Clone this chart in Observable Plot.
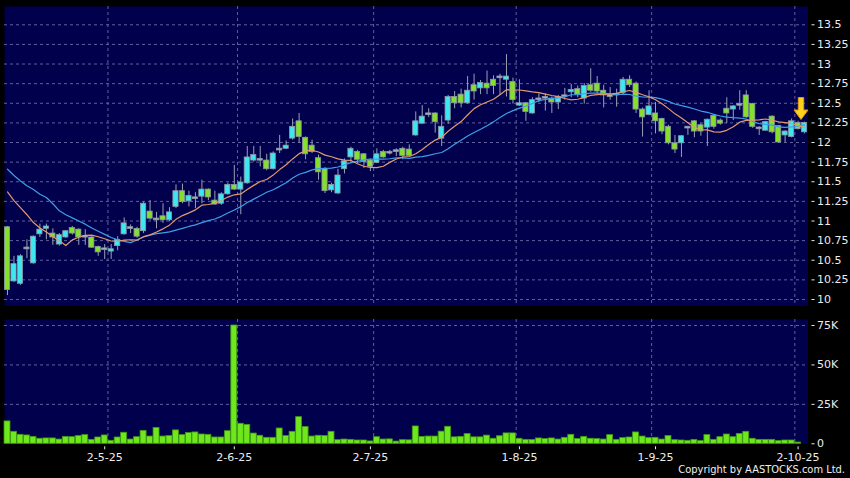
<!DOCTYPE html>
<html><head><meta charset="utf-8">
<script src="https://cdn.jsdelivr.net/npm/d3@7"></script>
<script src="https://cdn.jsdelivr.net/npm/@observablehq/plot@0.6"></script>
<style>
html,body{margin:0;padding:0;background:#000;}
#chart{position:relative;width:850px;height:478px;background:#000;overflow:hidden;font-family:"DejaVu Sans",sans-serif;}
#price,#vol{position:absolute;left:0;}
#price{top:0;}
#vol{top:310px;}
#copy{position:absolute;right:5px;top:463px;color:#f0f0f0;font-size:11px;font-family:"DejaVu Sans Condensed","DejaVu Sans",sans-serif;white-space:nowrap;}
</style></head><body>
<div id="chart"><div id="price"></div><div id="vol"></div><div id="copy">Copyright by AASTOCKS.com Ltd.</div></div>
<script>
// ---- data ----
const opens  = [10.92,10.23,10.20,10.65,10.46,10.83,10.90,10.84,10.70,10.79,
                10.91,10.89,10.80,10.79,10.67,10.64,10.61,10.68,10.83,10.91,
                10.90,10.87,11.12,11.02,11.06,11.01,11.18,11.38,11.25,11.29,
                11.31,11.40,11.26,11.22,11.34,11.46,11.40,11.48,11.77,11.78,
                11.77,11.66,11.91,11.92,12.05,12.27,12.06,11.96,11.80,11.66,
                11.39,11.35,11.66,11.81,11.88,11.85,11.77,11.74,11.88,11.87,
                11.89,11.92,11.91,12.09,12.24,12.35,12.37,12.05,12.28,12.58,
                12.61,12.50,12.73,12.69,12.75,12.80,12.83,12.80,12.77,12.47,
                12.50,12.37,12.55,12.57,12.56,12.51,12.59,12.64,12.68,12.56,
                12.73,12.75,12.66,12.61,12.61,12.63,12.80,12.75,12.42,12.35,
                12.37,12.30,12.20,11.99,11.99,12.19,12.27,12.22,12.19,12.34,
                12.28,12.43,12.42,12.48,12.60,12.49,12.18,12.15,12.33,12.21,
                12.09,12.07,12.25,12.13];
const highs  = [10.93,10.55,10.57,10.76,10.81,10.96,10.96,10.90,10.84,10.88,
                10.93,10.90,10.89,10.80,10.68,10.70,10.70,10.80,11.04,10.95,
                10.92,11.24,11.26,11.11,11.22,11.17,11.46,11.47,11.38,11.36,
                11.52,11.41,11.38,11.36,11.48,11.71,11.56,11.95,11.95,11.95,
                11.85,11.88,12.09,12.02,12.30,12.37,12.07,12.03,11.84,11.68,
                11.48,11.66,11.79,11.94,11.90,11.86,11.79,11.92,11.90,11.90,
                11.92,11.94,11.97,12.39,12.47,12.43,12.38,12.34,12.60,12.65,
                12.68,12.84,12.87,12.79,12.91,12.85,12.87,13.12,12.82,12.80,
                12.51,12.57,12.62,12.62,12.58,12.60,12.69,12.74,12.72,12.75,
                12.94,12.84,12.73,12.70,12.68,12.83,12.85,12.77,12.44,12.66,
                12.51,12.31,12.22,12.09,12.09,12.20,12.28,12.24,12.30,12.35,
                12.30,12.57,12.47,12.66,12.66,12.50,12.20,12.27,12.34,12.21,
                12.15,12.30,12.27,12.26];
const lows   = [10.05,10.22,10.18,10.52,10.45,10.79,10.76,10.69,10.68,10.78,
                10.82,10.69,10.69,10.65,10.55,10.51,10.51,10.62,10.82,10.84,
                10.78,10.84,11.01,10.90,10.97,10.99,11.16,11.22,11.18,11.16,
                11.22,11.26,11.20,11.20,11.33,11.39,11.08,11.47,11.75,11.69,
                11.64,11.65,11.86,11.91,12.03,11.99,11.78,11.86,11.52,11.35,
                11.36,11.34,11.60,11.73,11.73,11.67,11.63,11.73,11.80,11.84,
                11.82,11.78,11.82,12.08,12.23,12.32,12.12,11.95,12.23,12.43,
                12.44,12.49,12.54,12.61,12.61,12.61,12.60,12.58,12.49,12.46,
                12.27,12.36,12.51,12.40,12.37,12.42,12.54,12.57,12.57,12.49,
                12.64,12.62,12.44,12.54,12.45,12.61,12.70,12.37,12.07,12.34,
                12.11,12.10,11.97,11.86,11.81,12.09,12.06,12.08,11.95,12.17,
                12.22,12.24,12.28,12.41,12.31,12.18,12.09,12.15,12.11,11.99,
                12.00,12.06,12.16,12.11];
const closes = [10.12,10.45,10.55,10.65,10.80,10.89,10.93,10.79,10.82,10.87,
                10.84,10.79,10.80,10.66,10.60,10.64,10.64,10.76,10.97,10.91,
                10.80,11.22,11.03,11.02,11.01,11.11,11.38,11.24,11.32,11.29,
                11.40,11.30,11.21,11.34,11.46,11.40,11.49,11.81,11.84,11.78,
                11.66,11.86,11.91,11.96,12.20,12.07,11.85,11.88,11.62,11.38,
                11.46,11.58,11.76,11.92,11.78,11.75,11.69,11.85,11.81,11.87,
                11.89,11.83,11.83,12.27,12.33,12.37,12.26,12.20,12.58,12.50,
                12.50,12.66,12.65,12.76,12.69,12.72,12.83,12.84,12.54,12.50,
                12.39,12.54,12.55,12.57,12.51,12.58,12.59,12.67,12.61,12.72,
                12.66,12.65,12.60,12.58,12.61,12.80,12.73,12.42,12.32,12.46,
                12.27,12.14,11.99,11.91,12.08,12.19,12.14,12.14,12.29,12.20,
                12.24,12.37,12.46,12.48,12.32,12.20,12.18,12.26,12.13,12.00,
                12.14,12.27,12.17,12.25];
// volume in shares
const volumes = [14200,7600,5700,5300,4400,3200,3400,3400,2700,4400,
                 4200,4900,5500,2500,4000,5300,1900,4000,7000,2700,
                 4200,8200,4600,10100,4600,4900,8500,5500,6800,7200,
                 5900,5700,4000,4000,8000,75000,12700,12000,6500,5100,
                 3800,3800,9700,4900,7600,16900,10600,4600,5100,4900,
                 7600,2300,2700,2500,2100,2100,1500,4200,2700,2800,
                 1400,2300,2200,11000,4400,4600,4600,7700,10800,4100,
                 4400,6200,4100,4100,5200,3200,4800,6600,6600,3200,
                 2500,2400,3400,3000,3400,2700,3800,5700,3000,4400,
                 3200,3000,2700,5500,2500,3600,4000,7200,4600,3600,
                 3800,2700,4900,2300,2100,1900,2500,1700,5500,2500,
                 4200,5900,4200,6300,7600,3200,2500,2500,2500,1700,
                 2100,2100,800,0];
// moving-average values before enough closes are on the chart
const ma10Lead = [11.37,11.26,11.17,11.08,10.98,10.91,10.86,10.80,10.75];
const ma20Lead = [11.66,11.58,11.51,11.45,11.40,11.34,11.30,11.22,11.13,11.08,
                  11.04,11.00,10.96,10.91,10.87,10.83,10.79,10.76,10.74];
const priceTicks = [10,10.25,10.5,10.75,11,11.25,11.5,11.75,12,12.25,12.5,12.75,13,13.25,13.5];
const volTicks = [0,25000,50000,75000];
const tickIdx = [15,35,56,79,100,122];
const tickLabels = ["2-5-25","2-6-25","2-7-25","1-8-25","1-9-25","2-10-25"];
const gridIdx = [15.5,35.5,56.5,78.5,99.4,121.5];
const arrowMark = [{i:122.45, p:12.433}];

// ---- build tables ----
const candles = closes.map((c,i)=>({i, o:opens[i], h:highs[i], l:lows[i], c}));
const ma10 = closes.map((c,i)=>({i, v: i<9 ? ma10Lead[i] : d3.mean(closes.slice(i-9,i+1))}));
const ma20 = closes.map((c,i)=>({i, v: i<19 ? ma20Lead[i] : d3.mean(closes.slice(i-19,i+1))}));
const vols = volumes.map((v,i)=>({i,v})).filter(d=>d.v>0);
const labelOf = new Map(tickIdx.map((t,k)=>[t,tickLabels[k]]));

const NAVY="#00004c", GRID="#6a6aa6", UP="#3ee6f0", DOWN="#84e02a", DOJI="#a6b6c6";
const xDomain=[-0.463,123.53];
const bodyTop = d => Math.max(d.o,d.c) - Math.min(d.o,d.c) < 0.02 ? (d.o+d.c)/2 + 0.011 : Math.max(d.o,d.c);
const bodyBot = d => Math.max(d.o,d.c) - Math.min(d.o,d.c) < 0.02 ? (d.o+d.c)/2 - 0.011 : Math.min(d.o,d.c);
const colorOf = d => Math.abs(d.c-d.o) < 0.02 ? DOJI : (d.c>d.o ? UP : DOWN);

const arrowSymbol = {draw(ctx){
  ctx.moveTo(-2.7,-11); ctx.lineTo(2.7,-11); ctx.lineTo(2.7,1.5);
  ctx.lineTo(7,1.5); ctx.lineTo(0,11); ctx.lineTo(-7,1.5); ctx.lineTo(-2.7,1.5); ctx.closePath();
}};

const price = Plot.plot({
  width:850, height:310,
  marginLeft:4, marginRight:42.5, marginTop:6, marginBottom:4.5,
  style:{background:"#000", color:"#ececec", fontFamily:"DejaVu Sans, sans-serif", fontSize:"11px"},
  x:{type:"linear", domain:xDomain, axis:null},
  y:{domain:[9.917,13.733], axis:null},
  marks:[
    Plot.frame({fill:NAVY, stroke:null}),
    Plot.gridY(priceTicks, {stroke:GRID, strokeOpacity:0.9, strokeDasharray:"3,3"}),
    Plot.gridX(gridIdx, {stroke:GRID, strokeOpacity:0.9, strokeDasharray:"3,3"}),
    Plot.ruleX(candles, {x:"i", y1:"l", y2:"h", stroke:"#9aa0b4", strokeWidth:1}),
    Plot.rect(candles, {x1:d=>d.i-0.4, x2:d=>d.i+0.4, y1:bodyBot, y2:bodyTop, fill:colorOf, stroke:"#8c98a4", strokeWidth:0.8}),
    Plot.line(ma20, {x:"i", y:"v", stroke:"#3d9fe6", strokeWidth:1.2}),
    Plot.line(ma10, {x:"i", y:"v", stroke:"#e29a6c", strokeWidth:1.2}),
    Plot.dot(arrowMark, {x:"i", y:"p", symbol:arrowSymbol, r:5, fill:"#ffd21e", stroke:"#e09a10", strokeWidth:1}),
    Plot.axisY(priceTicks, {anchor:"right", label:null, tickSize:3, tickPadding:3, dx:3, tickFormat:d=>String(d)})
  ]
});
document.getElementById("price").appendChild(price);

const vol = Plot.plot({
  width:850, height:168,
  marginLeft:4, marginRight:42.5, marginTop:9, marginBottom:34.7,
  style:{background:"#000", color:"#ececec", fontFamily:"DejaVu Sans, sans-serif", fontSize:"11px"},
  x:{type:"linear", domain:xDomain, axis:null},
  y:{domain:[0,78800], axis:null},
  marks:[
    Plot.frame({fill:NAVY, stroke:null}),
    Plot.gridY(volTicks.filter(t=>t>0), {stroke:GRID, strokeOpacity:0.9, strokeDasharray:"3,3"}),
    Plot.gridX(gridIdx, {stroke:GRID, strokeOpacity:0.9, strokeDasharray:"3,3"}),
    Plot.rect(vols, {x1:d=>d.i-0.46, x2:d=>d.i+0.46, y1:0, y2:"v", fill:"#6ee81c", stroke:"#3f9a12", strokeWidth:0.8}),
    Plot.axisY(volTicks, {anchor:"right", label:null, tickSize:3, tickPadding:3, dx:3, tickFormat:d=>d===0?"0":(d/1000)+"K"}),
    Plot.axisX(tickIdx, {anchor:"bottom", label:null, tickSize:3, tickPadding:3, dy:3, tickFormat:d=>labelOf.get(d)})
  ]
});
document.getElementById("vol").appendChild(vol);
</script>
</body></html>
